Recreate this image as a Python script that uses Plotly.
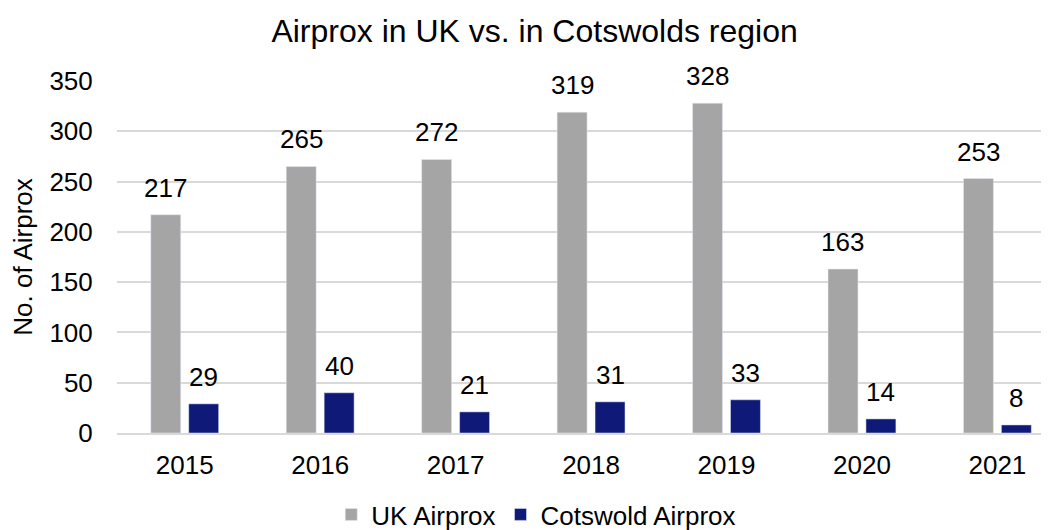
import plotly.graph_objects as go

years = ["2015", "2016", "2017", "2018", "2019", "2020", "2021"]
uk_airprox = [217, 265, 272, 319, 328, 163, 253]
cotswold_airprox = [29, 40, 21, 31, 33, 14, 8]

GRAY = "#A5A5A5"
NAVY = "#0F1A78"
FONT = "Liberation Sans, Arial, sans-serif"
FS = 26

fig = go.Figure()
fig.add_trace(go.Bar(name="UK Airprox", x=years, y=uk_airprox, marker_color=GRAY))
fig.add_trace(go.Bar(name="Cotswold Airprox", x=years, y=cotswold_airprox, marker_color=NAVY))

# value labels, positioned by category index on the category axis
for i, y in enumerate(uk_airprox):
    fig.add_annotation(x=i, y=y, xref="x", yref="y", text=str(y), showarrow=False,
                       xshift=-19, yshift=10, yanchor="bottom",
                       font=dict(size=FS, color="#000000", family=FONT))
for i, y in enumerate(cotswold_airprox):
    fig.add_annotation(x=i, y=y, xref="x", yref="y", text=str(y), showarrow=False,
                       xshift=19, yshift=10, yanchor="bottom",
                       font=dict(size=FS, color="#000000", family=FONT))

fig.update_layout(
    width=1049, height=530,
    paper_bgcolor="white", plot_bgcolor="white",
    font=dict(family=FONT, size=FS, color="#000000"),
    title=dict(text="Airprox in UK vs. in Cotswolds region", x=0.502, xref="container",
               xanchor="center", y=0.957, yref="container", yanchor="middle",
               font=dict(size=32, color="#000000", family=FONT)),
    barmode="group", bargap=0.44, bargroupgap=0.21,
    margin=dict(l=109, r=0, t=73, b=105, autoexpand=False),
    showlegend=True,
    legend=dict(orientation="h", x=0.446, xanchor="center", y=-0.022, yref="container",
                yanchor="bottom", font=dict(size=FS, family=FONT, color="#000000"),
                traceorder="normal", itemwidth=30),
    xaxis=dict(range=[-0.5, 6.44], showgrid=False, showline=True, linecolor="#D9D9D9",
               linewidth=1.5, ticks="outside", ticklen=8, tickcolor="rgba(0,0,0,0)",
               tickfont=dict(size=FS), automargin=False),
    yaxis=dict(range=[0, 350], dtick=50, showgrid=True, gridcolor="#D9D9D9", gridwidth=1.5,
               zeroline=False, showline=False, ticks="outside", ticklen=18,
               tickcolor="rgba(0,0,0,0)", tickfont=dict(size=FS), automargin=False,
               title=dict(text="No. of Airprox", font=dict(size=FS), standoff=16)),
)

fig.write_html("out.html")
